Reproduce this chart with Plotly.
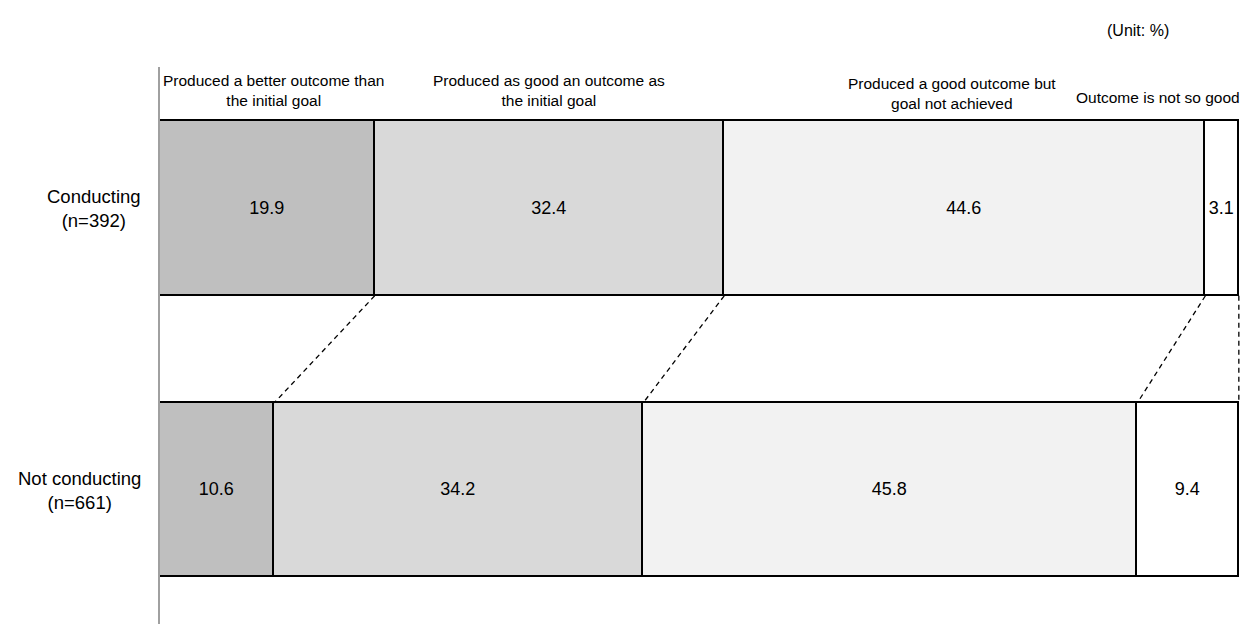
import plotly.graph_objects as go
import numpy as np

# Survey groups (rows) and response categories (stacked segments)
groups = ["Conducting<br>(n=392)", "Not conducting<br>(n=661)"]
categories = [
    "Produced a better outcome than<br>the initial goal",
    "Produced as good an outcome as<br>the initial goal",
    "Produced a good outcome but<br>goal not achieved",
    "Outcome is not so good",
]
conducting = [19.9, 32.4, 44.6, 3.1]
not_conducting = [10.6, 34.2, 45.8, 9.4]

fills = ["#bfbfbf", "#d9d9d9", "#f2f2f2", "#ffffff"]
FONT = "Liberation Sans, Arial, sans-serif"

ypos = [0, 1]
bar_w = 0.62
values = np.array([conducting, not_conducting])

fig = go.Figure()

for i, cat in enumerate(categories):
    fig.add_trace(go.Bar(
        y=ypos,
        x=values[:, i],
        orientation="h",
        width=bar_w,
        name=cat,
        marker=dict(color=fills[i], line=dict(color="#000000", width=1.6)),
        text=[f"{v:.1f}" for v in values[:, i]],
        textposition="inside",
        insidetextanchor="middle",
        constraintext="none",
        textfont=dict(family=FONT, size=18, color="#000000"),
        cliponaxis=False,
        showlegend=False,
        hoverinfo="skip",
    ))

# Dashed series lines joining matching segment boundaries of the two bars
cum_top = np.cumsum(conducting)
cum_bot = np.cumsum(not_conducting)
for a, b in zip(cum_top, cum_bot):
    fig.add_trace(go.Scatter(
        x=[a, b],
        y=[ypos[0] + bar_w / 2, ypos[1] - bar_w / 2],
        mode="lines",
        line=dict(color="#000000", width=1.3, dash="5px,4px"),
        showlegend=False,
        hoverinfo="skip",
    ))

# Category captions above the upper bar
starts = np.concatenate([[0], cum_top[:-1]])
mids = (starts + cum_top) / 2
caption_shift = [6, 0, -13, 0]
caption_y = [-0.418, -0.418, -0.408, -0.394]
for i, cat in enumerate(categories):
    last = i == len(categories) - 1
    fig.add_annotation(
        x=100 if last else mids[i],
        y=caption_y[i],
        xref="x", yref="y",
        text=cat,
        showarrow=False,
        xanchor="right" if last else "center",
        yanchor="middle",
        xshift=3 if last else caption_shift[i],
        align="center",
        font=dict(family=FONT, size=15.5, color="#000000"),
    )

# Group labels on the left
for yv, g in zip(ypos, groups):
    fig.add_annotation(
        x=-0.016, y=yv,
        xref="paper", yref="y",
        text=g,
        showarrow=False,
        xanchor="right", yanchor="middle",
        align="center",
        font=dict(family=FONT, size=18.5, color="#000000"),
    )

# Unit note in the top-right corner
fig.add_annotation(
    x=0.935, y=1.066, xref="paper", yref="paper",
    text="(Unit: %)", showarrow=False,
    xanchor="right", yanchor="middle",
    font=dict(family=FONT, size=16, color="#000000"),
)

fig.update_layout(
    width=1242, height=624,
    margin=dict(l=160, r=1, t=67, b=0),
    barmode="stack",
    bargap=0,
    plot_bgcolor="#ffffff",
    paper_bgcolor="#ffffff",
    font=dict(family=FONT, color="#000000"),
)
fig.update_xaxes(
    range=[0, 100.2], showgrid=False, zeroline=False,
    showticklabels=False, showline=False, ticks="",
)
fig.update_yaxes(
    range=[1.476, -0.5027], showgrid=False, zeroline=False,
    showticklabels=False, ticks="",
    showline=True, linecolor="#a0a0a0", linewidth=2,
)

fig.write_html("out.html")
